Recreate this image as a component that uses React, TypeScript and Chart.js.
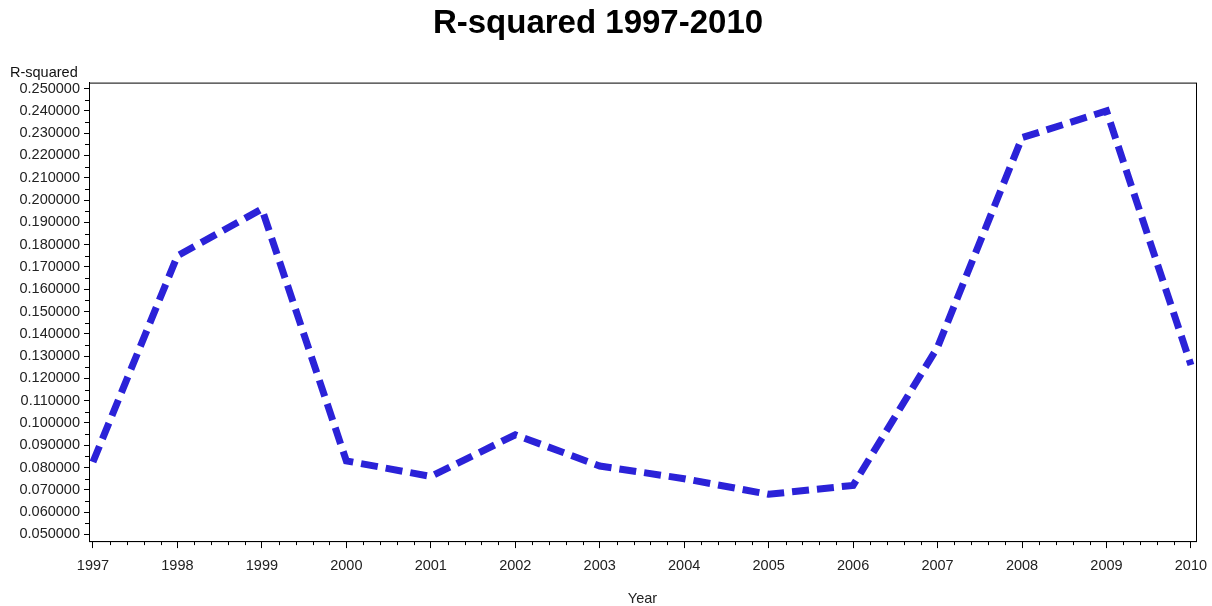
import React, { useEffect, useRef } from "react";
import { Chart, registerables } from "chart.js";

Chart.register(...registerables);

const years = [1997, 1998, 1999, 2000, 2001, 2002, 2003, 2004, 2005, 2006, 2007, 2008, 2009, 2010];
const rSquared = [0.0825, 0.175, 0.196, 0.083, 0.076, 0.0947, 0.0807, 0.075, 0.068, 0.072, 0.134, 0.228, 0.240, 0.126];
const yTicks = [0.05, 0.06, 0.07, 0.08, 0.09, 0.1, 0.11, 0.12, 0.13, 0.14, 0.15, 0.16, 0.17, 0.18, 0.19, 0.2, 0.21, 0.22, 0.23, 0.24, 0.25];

const FONT = "Arial, 'Liberation Sans', sans-serif";
const FS = 14.5;

const framePlugin = {
  id: "frameAndMinor",
  afterDraw(chart: any) {
    const { ctx, chartArea } = chart;
    const xs = chart.scales.x;
    const ys = chart.scales.y;
    ctx.save();
    ctx.strokeStyle = "#000";
    ctx.lineWidth = 1;
    ctx.strokeRect(chartArea.left + 0.5, chartArea.top + 0.5, chartArea.right - chartArea.left, chartArea.bottom - chartArea.top);
    ctx.beginPath();
    for (let i = 0; i < years.length - 1; i++) {
      for (let k = 1; k < 5; k++) {
        const px = Math.round(xs.getPixelForValue(years[i] + k / 5)) + 0.5;
        ctx.moveTo(px, chartArea.bottom);
        ctx.lineTo(px, chartArea.bottom + 4);
      }
    }
    for (let i = 0; i < yTicks.length - 1; i++) {
      const py = Math.round(ys.getPixelForValue((yTicks[i] + yTicks[i + 1]) / 2)) + 0.5;
      ctx.moveTo(chartArea.left, py);
      ctx.lineTo(chartArea.left - 4, py);
    }
    ctx.stroke();
    ctx.fillStyle = "#111";
    ctx.font = `${FS}px ${FONT}`;
    ctx.textAlign = "left";
    ctx.textBaseline = "middle";
    ctx.fillText("R-squared", 10, 73);
    ctx.restore();
  },
};

export default function App() {
  const ref = useRef<HTMLCanvasElement>(null);
  useEffect(() => {
    document.body.style.margin = "0";
    const chart = new Chart(ref.current as HTMLCanvasElement, {
      type: "line",
      data: {
        datasets: [
          {
            data: years.map((y, i) => ({ x: y, y: rSquared[i] })),
            borderColor: "#2b22d8",
            borderWidth: 7,
            borderDash: [17, 8],
            pointRadius: 0,
            tension: 0,
            fill: false,
          },
        ],
      },
      options: {
        animation: false,
        responsive: false,
        layout: { padding: { left: 0, right: 16, top: 0, bottom: 0 } },
        plugins: {
          legend: { display: false },
          tooltip: { enabled: false },
          title: {
            display: true,
            text: "R-squared 1997-2010",
            color: "#000",
            font: { family: FONT, size: 33, weight: "bold" },
            padding: { top: 4, bottom: 39 },
          },
        },
        scales: {
          x: {
            type: "linear",
            min: 1996.953,
            max: 2010.06,
            afterBuildTicks: (s: any) => {
              s.ticks = years.map((v) => ({ value: v }));
            },
            afterFit: (s: any) => {
              s.paddingLeft = 0;
              s.paddingRight = 0;
            },
            ticks: {
              color: "#222",
              font: { family: FONT, size: FS },
              autoSkip: false,
              maxRotation: 0,
              padding: 9,
              callback: (v: any) => String(v),
            },
            grid: { drawOnChartArea: false, drawTicks: true, tickLength: 7, color: "#000" },
            border: { color: "#000" },
            title: {
              display: true,
              text: "Year",
              color: "#222",
              font: { family: FONT, size: FS, lineHeight: 1 },
              padding: { top: 8, bottom: 0 },
            },
          },
          y: {
            type: "linear",
            min: 0.047,
            max: 0.2527,
            afterBuildTicks: (s: any) => {
              s.ticks = yTicks.map((v) => ({ value: v }));
            },
            afterFit: (s: any) => {
              s.width = 89;
            },
            ticks: {
              color: "#222",
              font: { family: FONT, size: FS },
              autoSkip: false,
              padding: 4,
              callback: (v: any) => Number(v).toFixed(6),
            },
            grid: { drawOnChartArea: false, drawTicks: true, tickLength: 5, color: "#000" },
            border: { color: "#000" },
          },
        },
      },
      plugins: [framePlugin],
    } as any);
    return () => chart.destroy();
  }, []);
  return (
    <div style={{ width: 1212, height: 606 }}>
      <canvas ref={ref} width={1212} height={606} />
    </div>
  );
}
